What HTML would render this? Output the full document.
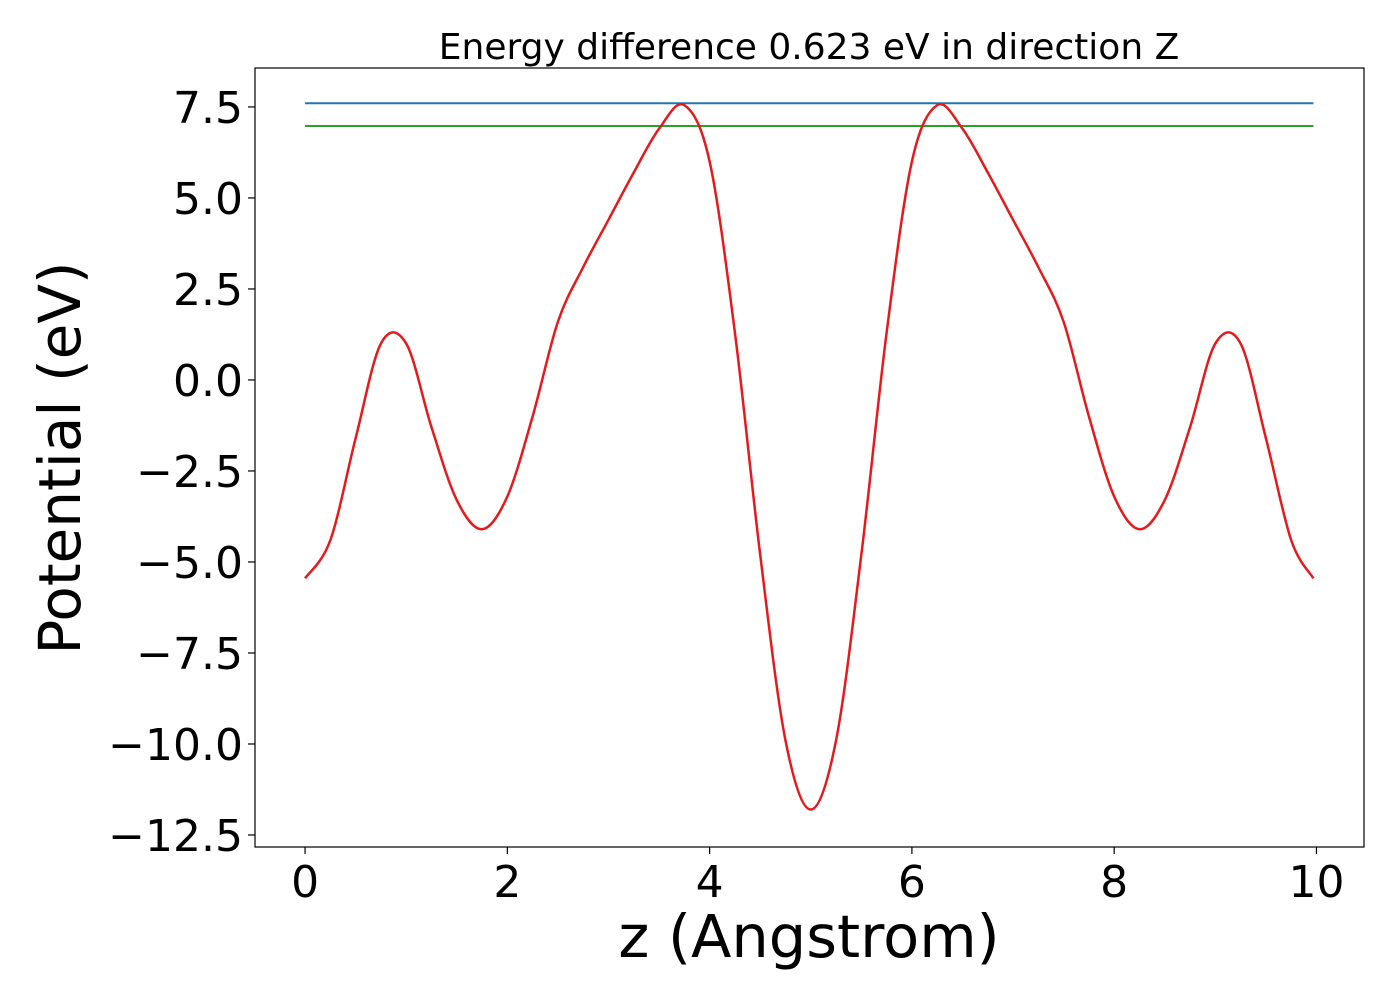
<!DOCTYPE html>
<html><head><meta charset="utf-8"><style>
body{margin:0;background:#fff;}
svg text{font-family:"DejaVu Sans","Liberation Sans",sans-serif;}
</style></head><body>
<svg id="chart" width="1400" height="1000" xmlns="http://www.w3.org/2000/svg"></svg>
<script>
const leftXs=[0,0.25,0.5,0.75,1.0,1.25,1.5,1.75,2.0,2.25,2.5,2.75,3.0,3.25,3.5,3.75,4.0,4.25,4.5,4.75];
const leftYs=[-5.45,-4.4,-1.6,1.0,1.0,-1.3,-3.3,-4.1,-3.2,-1.0,1.6,3.1,4.4,5.7,6.9,7.55,6.0,1.3,-4.8,-9.9];
const centerX=5.0, centerY=-11.8;
const upperLevel=7.6, lowerLevel=6.977;
const lineStart=0, lineEnd=9.97;
const xTicks=[0,2,4,6,8,10];
const yTicks=[7.5,5.0,2.5,0.0,-2.5,-5.0,-7.5,-10.0,-12.5];
const xs=leftXs.concat([centerX]).concat(leftXs.slice().reverse().map(v=>2*centerX-v));
const ys=leftYs.concat([centerY]).concat(leftYs.slice().reverse());
const L=255,R=1364,T=68,B=847;
const xmin=-0.495,xmax=10.47,ymin=-12.83,ymax=8.57;
const X=v=>L+(v-xmin)/(xmax-xmin)*(R-L);
const Y=v=>B-(v-ymin)/(ymax-ymin)*(B-T);
const svg=document.getElementById('chart');const NS='http://www.w3.org/2000/svg';
function mk(t,a,txt){const e=document.createElementNS(NS,t);for(const k in a)e.setAttribute(k,a[k]);if(txt!==undefined)e.textContent=txt;svg.appendChild(e);return e;}
const hb=mk('line',{x1:X(lineStart),x2:X(lineEnd),y1:Y(upperLevel),y2:Y(upperLevel),stroke:'#1f77b4','stroke-width':2});


const hg=mk('line',{x1:X(lineStart),x2:X(lineEnd),y1:Y(lowerLevel),y2:Y(lowerLevel),stroke:'#2ca02c','stroke-width':2});


const P=xs.map((x,i)=>[X(Math.min(x,lineEnd)),Y(ys[i])]);
let d='M'+P[0][0]+','+P[0][1];
for(let i=0;i<P.length-1;i++){const p0=P[Math.max(0,i-1)],p1=P[i],p2=P[i+1],p3=P[Math.min(P.length-1,i+2)];
d+=` C${p1[0]+(p2[0]-p0[0])/6},${p1[1]+(p2[1]-p0[1])/6} ${p2[0]-(p3[0]-p1[0])/6},${p2[1]-(p3[1]-p1[1])/6} ${p2[0]},${p2[1]}`;}
const pl=mk('path',{d:d,fill:'none',stroke:'#e41a1c','stroke-width':2.5});


const fr=mk('rect',{x:L,y:T,width:R-L,height:B-T,fill:'none',stroke:'#000','stroke-width':1.2});


xTicks.forEach(v=>{mk('line',{x1:X(v),x2:X(v),y1:B,y2:B+7,stroke:'#000','stroke-width':1.2});
const t=mk('text',{x:X(v),y:B+50,'font-size':44,'text-anchor':'middle'},String(v));

});
yTicks.forEach(v=>{mk('line',{x1:L-7,x2:L,y1:Y(v),y2:Y(v),stroke:'#000','stroke-width':1.2});
const t=mk('text',{x:L-12,y:Y(v)+16,'font-size':44,'text-anchor':'end'},(v<0?'\u2212':'')+Math.abs(v).toFixed(1));

});
const xt=mk('text',{x:809,y:957,'font-size':59,'text-anchor':'middle'},'z (Angstrom)');


const yt=mk('text',{x:0,y:0,'font-size':58,'text-anchor':'middle',transform:'translate(80,458) rotate(-90)'},'Potential (eV)');


const tt=mk('text',{x:809,y:59,'font-size':36,'text-anchor':'middle'},'Energy difference 0.623 eV in direction Z');


</script>
</body></html>
